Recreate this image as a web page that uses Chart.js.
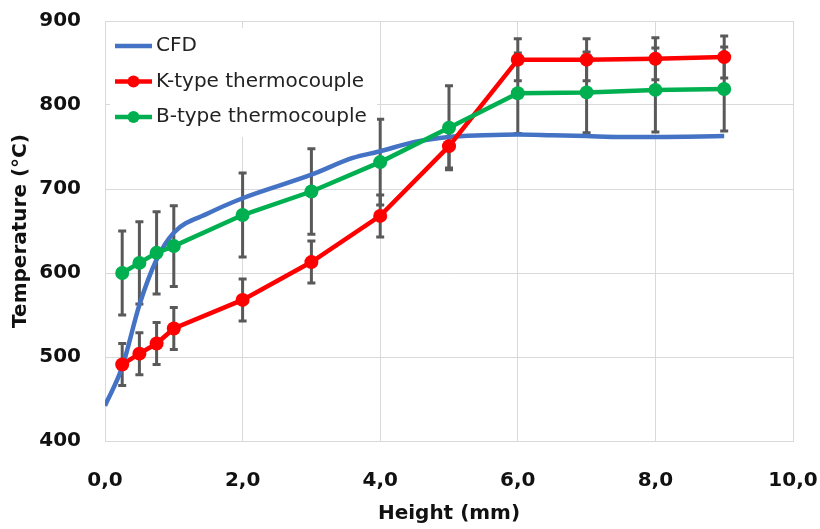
<!DOCTYPE html>
<html>
<head>
<meta charset="utf-8">
<script src="https://cdn.jsdelivr.net/npm/chart.js@4.4.1/dist/chart.umd.min.js"></script>
<style>
  html, body { margin: 0; padding: 0; background: #fff; }
  #wrap { width: 820px; height: 529px; }
</style>
</head>
<body>
<div id="wrap"><canvas id="tempChart"></canvas></div>
<script>
// CFD profile
const cfdHeight = [0, 0.25, 0.5, 0.75, 1.0, 1.5, 2.0, 3.0, 3.6, 4.0, 4.5, 5.0, 5.5, 6.0, 6.5, 7.0, 7.5, 8.0, 9.0];
const cfdTemp = [442, 488, 562, 616, 648, 671, 689, 717, 737, 745, 756, 762, 764, 765, 764, 763, 762, 762, 763];

// thermocouple measurements
const tcHeight = [0.25, 0.5, 0.75, 1, 2, 3, 4, 5, 6, 7, 8, 9];
const kTemp = [491, 504, 516, 534, 568, 613, 668, 751, 854, 854, 855, 857];
const kErr = [25, 25, 25, 25, 25, 25, 25, 26, 25, 25, 25, 25];
const bTemp = [600, 612, 624, 632, 669, 697, 732, 773, 814, 815, 818, 819];
const bErr = [50, 49, 49, 48, 50, 51, 51, 50, 48, 48, 50, 50];

const seriesNames = ['CFD', 'K-type thermocouple', 'B-type thermocouple'];
const seriesColors = ['#4472C4', '#FF0000', '#00B050'];

const toPoints = (xs, ys) => xs.map((x, i) => ({x: x, y: ys[i]}));

// vertical error bars, drawn under the lines
const errorBars = {
  id: 'errorBars',
  beforeDatasetsDraw(chart) {
    const {ctx, scales: {x, y}} = chart;
    ctx.save();
    ctx.strokeStyle = '#595959';
    ctx.lineWidth = 3;
    chart.data.datasets.forEach(ds => {
      if (!ds.errors) return;
      ds.data.forEach((pt, j) => {
        const px = x.getPixelForValue(pt.x);
        const top = y.getPixelForValue(pt.y + ds.errors[j]);
        const bot = y.getPixelForValue(pt.y - ds.errors[j]);
        ctx.beginPath();
        ctx.moveTo(px, top); ctx.lineTo(px, bot);
        ctx.moveTo(px - 4, top); ctx.lineTo(px + 4, top);
        ctx.moveTo(px - 4, bot); ctx.lineTo(px + 4, bot);
        ctx.stroke();
      });
    });
    ctx.restore();
  }
};

// legend sitting inside the plot, top left
const innerLegend = {
  id: 'innerLegend',
  afterDraw(chart) {
    const {ctx, chartArea} = chart;
    const left = chartArea.left + 5;
    const top = chartArea.top + 7;
    ctx.save();
    ctx.fillStyle = '#fff';
    ctx.fillRect(left, top, 267, 109);
    chart.data.datasets.forEach((ds, i) => {
      const cy = top + 18 + i * 35.5;
      ctx.strokeStyle = ds.borderColor;
      ctx.lineWidth = 4.5;
      ctx.beginPath();
      ctx.moveTo(left + 5, cy);
      ctx.lineTo(left + 42, cy);
      ctx.stroke();
      if (ds.pointRadius > 0) {
        ctx.fillStyle = ds.borderColor;
        ctx.beginPath();
        ctx.arc(left + 23.5, cy, 6, 0, Math.PI * 2);
        ctx.fill();
      }
      ctx.fillStyle = '#222';
      ctx.font = '20px "DejaVu Sans"';
      ctx.textBaseline = 'middle';
      ctx.fillText(ds.label, left + 46, cy);
    });
    ctx.restore();
  }
};

const ctx = document.getElementById('tempChart');

new Chart(ctx, {
  type: 'line',
  data: {
    datasets: [
      {
        label: seriesNames[0],
        data: toPoints(cfdHeight, cfdTemp),
        borderColor: seriesColors[0],
        borderWidth: 4.5,
        pointRadius: 0,
        cubicInterpolationMode: 'monotone',
        order: 3
      },
      {
        label: seriesNames[1],
        data: toPoints(tcHeight, kTemp),
        errors: kErr,
        borderColor: seriesColors[1],
        backgroundColor: seriesColors[1],
        borderWidth: 4.5,
        pointRadius: 7,
        pointBorderWidth: 0,
        order: 2
      },
      {
        label: seriesNames[2],
        data: toPoints(tcHeight, bTemp),
        errors: bErr,
        borderColor: seriesColors[2],
        backgroundColor: seriesColors[2],
        borderWidth: 4.5,
        pointRadius: 7,
        pointBorderWidth: 0,
        order: 1
      }
    ]
  },
  options: {
    responsive: true,
    maintainAspectRatio: false,
    animation: false,
    layout: { padding: { left: 0, right: 27, top: 21, bottom: 0 } },
    plugins: {
      legend: { display: false },
      tooltip: { enabled: false }
    },
    scales: {
      x: {
        type: 'linear',
        min: 0,
        max: 10,
        afterFit: s => {
          s.height = 88;
          s.paddingLeft = 0;
          s.paddingRight = 0;
        },
        ticks: {
          stepSize: 2,
          padding: 28,
          color: '#111',
          font: { family: 'DejaVu Sans', size: 20, weight: 'bold' },
          callback: v => v.toFixed(1).replace('.', ',')
        },
        grid: { color: '#d9d9d9', drawTicks: false },
        border: { color: '#d9d9d9' },
        title: {
          display: true,
          text: 'Height (mm)',
          color: '#111',
          padding: { top: 0, bottom: 3 },
          font: { family: 'DejaVu Sans', size: 20, weight: 'bold' }
        }
      },
      y: {
        min: 400,
        max: 900,
        afterFit: s => {
          s.width = 105;
          s.paddingTop = 0;
          s.paddingBottom = 0;
        },
        ticks: {
          stepSize: 100,
          padding: 24,
          color: '#111',
          font: { family: 'DejaVu Sans', size: 20, weight: 'bold' }
        },
        grid: { color: '#d9d9d9', drawTicks: false },
        border: { color: '#d9d9d9' },
        title: {
          display: true,
          text: 'Temperature (°C)',
          color: '#111',
          padding: { top: 9, bottom: 0 },
          font: { family: 'DejaVu Sans', size: 20, weight: 'bold' }
        }
      }
    }
  },
  plugins: [errorBars, innerLegend]
});
</script>
</body>
</html>
